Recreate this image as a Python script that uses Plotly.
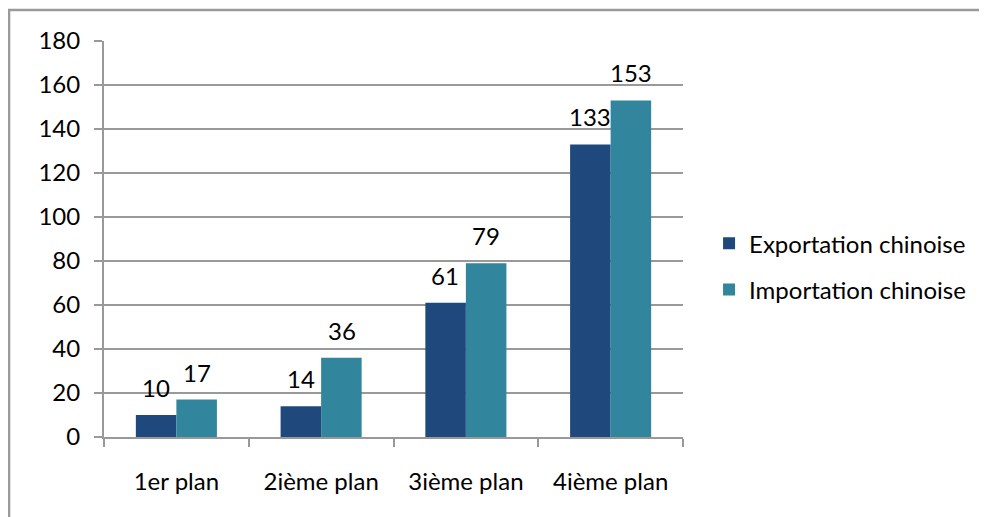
import plotly.graph_objects as go

categories = ["1er plan", "2ième plan", "3ième plan", "4ième plan"]
export_vals = [10, 14, 61, 133]
import_vals = [17, 36, 79, 153]
series_names = ["Exportation chinoise", "Importation chinoise"]
colors = ["#1F497D", "#31859C"]
y_ticks = [0, 20, 40, 60, 80, 100, 120, 140, 160, 180]

FONT = "Lato"
FS = 24
fig = go.Figure()
for name, vals, col, grp in [(series_names[0], export_vals, colors[0], "a"),
                             (series_names[1], import_vals, colors[1], "b")]:
    fig.add_trace(go.Bar(x=categories, y=vals, name=name, marker_color=col,
                         marker_line_width=0, legendgroup=grp))

# data labels
for vals, shift in [(export_vals, -20.5), (import_vals, 20.5)]:
    for c, v in zip(categories, vals):
        fig.add_annotation(x=c, y=v, text=str(v), showarrow=False, xshift=shift,
                           yanchor="bottom", yshift=11,
                           font=dict(family=FONT, size=FS, color="#000000"))

grid = "#999999"
fig.update_layout(
    width=979, height=509, autosize=False,
    margin=dict(l=96, r=304, t=33, b=80),
    paper_bgcolor="white", plot_bgcolor="white",
    barmode="group", bargap=0.44, bargroupgap=0,
    font=dict(family=FONT, size=FS, color="#000000"),
    showlegend=True,
    legend=dict(x=1.045, y=0.43, yanchor="middle", xanchor="left",
                traceorder="grouped", tracegroupgap=12,
                font=dict(family=FONT, size=FS, color="#000000"),
                bgcolor="rgba(0,0,0,0)"),
    xaxis=dict(type="category", showline=True, linecolor=grid, linewidth=2,
               ticks="outside", tickson="boundaries", ticklen=8, tickcolor=grid,
               tickwidth=2, showgrid=False, ticklabelstandoff=22),
    yaxis=dict(range=[0, 180], tickvals=y_ticks, showgrid=True, gridcolor=grid,
               gridwidth=2, showline=True, linecolor=grid, linewidth=2,
               ticks="outside", ticklen=8, tickcolor=grid, tickwidth=2,
               zeroline=False, ticklabelstandoff=9),
)

# outer chart border
fig.add_shape(type="rect", xref="paper", yref="paper",
              x0=-0.164, x1=1.6, y0=-0.3, y1=1.078,
              line=dict(color="#9a9a9a", width=2.5), fillcolor="rgba(0,0,0,0)",
              layer="below")

fig.write_html("out.html")
